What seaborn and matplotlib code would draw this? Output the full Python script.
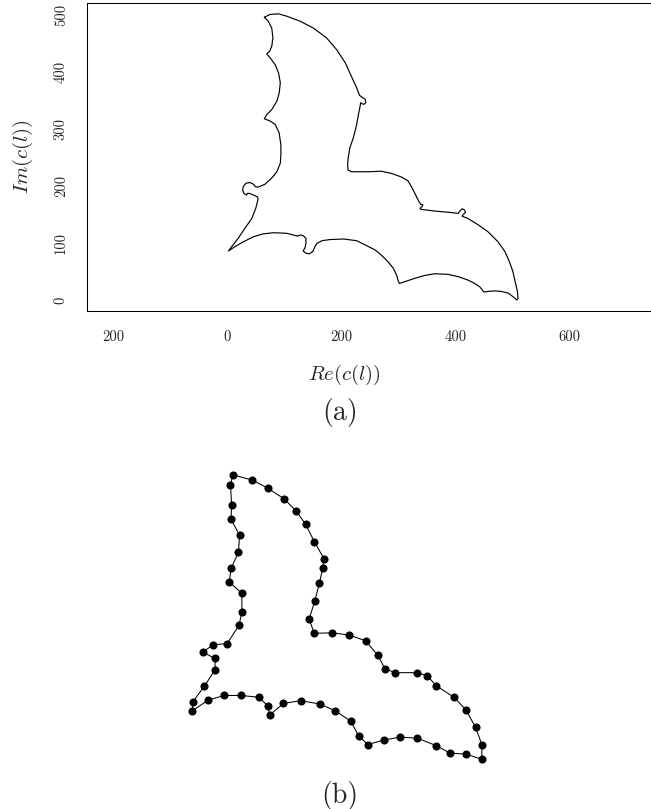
import numpy as np
import pandas as pd
import matplotlib
matplotlib.use("Agg")
import matplotlib.pyplot as plt
import seaborn as sns

sns.set_style("white")
plt.rcParams["mathtext.fontset"] = "cm"
plt.rcParams["font.family"] = ["cmr10", "DejaVu Serif"]

# ---- data: full contour c(l) (panel a) ----
bat_re = [65, 75, 90, 104, 128, 151, 174, 192, 207, 218, 227, 232, 236, 242, 243, 239, 234, 233,
          230, 227, 221, 215, 212, 211, 212, 218, 239, 250, 270, 288, 305, 317, 323, 329, 335,
          339, 343, 342, 338, 340, 364, 387, 405, 408, 412, 416, 418, 414, 412, 422, 440, 457,
          475, 487, 495, 501, 505, 509, 510, 508, 501, 493, 481, 469, 457, 450, 447, 443, 434,
          422, 405, 387, 364, 346, 329, 311, 302, 300, 297, 291, 282, 270, 259, 247, 227, 204,
          180, 166, 157, 154, 150, 144, 138, 133, 136, 138, 138, 133, 128, 123, 116, 104, 81,
          63, 46, 28, 14, 2, 8, 19, 31, 43, 50, 54, 53, 46, 39, 35, 34, 29, 27, 28, 33, 40, 46,
          49, 54, 66, 78, 87, 93, 94, 94, 91, 84, 75, 65, 69, 78, 87, 91, 93, 90, 84, 75, 69,
          74, 78, 80, 78, 72]
bat_im = [496, 501, 502, 498, 489, 477, 460, 439, 416, 392, 372, 359, 356, 352, 346, 343, 346, 340,
          325, 308, 284, 267, 249, 237, 228, 225, 225, 225, 226, 222, 216, 209, 199, 187, 175,
          168, 167, 164, 161, 159, 156, 154, 152, 156, 160, 158, 154, 150, 147, 143, 132, 120,
          102, 85, 67, 50, 32, 15, 3, 0, 6, 12, 15, 16, 15, 14, 18, 23, 29,
          35, 41, 45, 46, 43, 38, 32, 29, 33, 44, 56, 67, 79, 88, 94, 104, 107,
          106, 104, 99, 94, 85, 81, 82, 86, 91, 99, 108, 113, 114, 112, 114, 117, 118,
          116, 111, 102, 94, 86, 94, 108, 126, 143, 161, 177, 181, 184, 187, 187, 184, 187, 193, 199, 205, 206, 203,
          199, 198, 203, 214, 225, 240, 254, 272, 293, 308, 314, 318, 325, 334, 349, 363, 381, 398, 413, 425, 432,
          436, 445, 460, 477, 489]

# ---- data: 64 sampled points (panel b) ----
sample_re = [71, 105, 132, 161, 182, 199, 214, 231, 229, 223, 215, 205, 214, 245, 275, 304,
             325, 338, 356, 394, 412, 428, 459, 480, 497, 508, 508, 481, 452, 428, 395, 365,
             337, 308, 292, 278, 251, 224, 190, 160, 136, 132, 117, 85, 56, 28, 0, 1,
             21, 40, 40, 18, 37, 61, 82, 87, 87, 65, 68, 81, 83, 68, 69, 67]
sample_im = [499, 490, 476, 457, 436, 412, 382, 352, 336, 309, 278, 246, 221, 222, 218, 208,
             183, 159, 152, 152, 147, 129, 109, 87, 56, 26, 0, 9, 11, 24, 37, 39,
             34, 26, 41, 67, 85, 97, 103, 98, 78, 94, 109, 112, 112, 104, 85, 101,
             128, 157, 177, 188, 201, 203, 235, 259, 291, 311, 335, 363, 393, 421, 447, 481]

x_ticks = [-200, 0, 200, 400, 600]
x_tick_labels = ["200", "0", "200", "400", "600"]
y_ticks = [0, 100, 200, 300, 400, 500]
y_tick_labels = ["0", "100", "200", "300", "400", "500"]

W, H = 651, 809
fig = plt.figure(figsize=(W / 100, H / 100), dpi=100)

# ---------------- panel (a) ----------------
ax1 = fig.add_axes([87.3 / W, 1 - 310.7 / H, (658 - 87.3) / W, 307.4 / H])
df_a = pd.DataFrame({"re": bat_re + bat_re[:1], "im": bat_im + bat_im[:1]})
sns.lineplot(data=df_a, x="re", y="im", sort=False, estimator=None,
             color="black", linewidth=0.85, ax=ax1)
ax1.set_xlim(-245.6, 755.6)
ax1.set_ylim(-18.8, 520.5)
ax1.set_xticks(x_ticks)
ax1.set_xticklabels(x_tick_labels, fontfamily="cmr10", fontsize=10.5)
ax1.set_yticks(y_ticks)
ax1.set_yticklabels(y_tick_labels, fontfamily="cmr10", fontsize=10.5,
                    rotation=90, va="center")
ax1.tick_params(axis="both", direction="out", length=6.5, width=0.75,
                color="black", pad=7.5)
for sp in ax1.spines.values():
    sp.set_visible(True)
    sp.set_linewidth(0.75)
    sp.set_color("black")
ax1.set_xlabel(r"$Re(c(l))$", fontsize=15)
ax1.set_ylabel(r"$Im(c(l))$", fontsize=15)
ax1.xaxis.set_label_coords((344 - 87.3) / 570.7, (310.7 - 375) / 307.4)
ax1.xaxis.label.set_va("center")
ax1.yaxis.set_label_coords((23.3 - 87.3) / 570.7, 0.5)
ax1.yaxis.label.set_va("center")

fig.text(340 / W, 1 - 413 / H, "(a)", fontfamily="cmr10", fontsize=20,
         ha="center", va="center")

# ---------------- panel (b) ----------------
ax2 = fig.add_axes([150 / W, 1 - 775 / H, 380 / W, 315 / H])
df_b = pd.DataFrame({"re": sample_re + sample_re[:1], "im": sample_im + sample_im[:1]})
sns.lineplot(data=df_b, x="re", y="im", sort=False, estimator=None,
             color="black", linewidth=0.75, ax=ax2)
sns.scatterplot(x=sample_re, y=sample_im, s=34, color="black",
                edgecolor="black", linewidth=0, ax=ax2, zorder=3)
ax2.set_xlim(-74.2, 592.5)
ax2.set_ylim(-27.5, 525.1)
ax2.set_axis_off()

fig.text(340 / W, 1 - 795 / H, "(b)", fontfamily="cmr10", fontsize=20,
         ha="center", va="center")

fig.savefig("out.png", dpi=100)
